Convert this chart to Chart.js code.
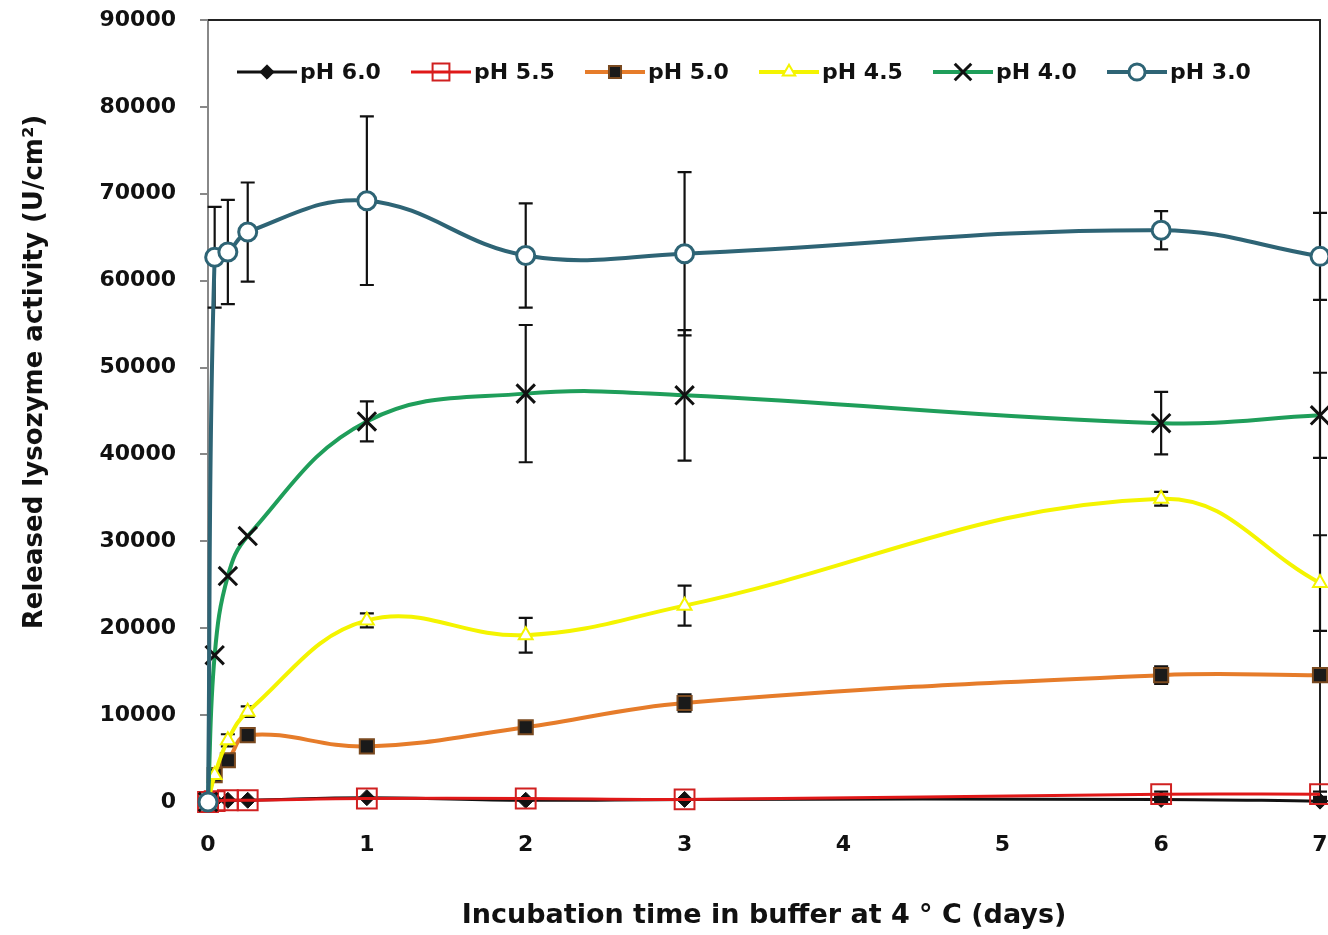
<!DOCTYPE html>
<html>
<head>
<meta charset="utf-8">
<script src="https://cdn.jsdelivr.net/npm/chart.js@4/dist/chart.umd.min.js"></script>
<style>
  html, body { margin: 0; padding: 0; background: #fff; }
  #wrap { width: 1328px; height: 935px; }
</style>
</head>
<body>
<div id="wrap"><canvas id="c" width="1328" height="935"></canvas></div>
<script>
// ---- data ----
const days = [0, 0.042, 0.125, 0.25, 1, 2, 3, 6, 7];
const seriesNames = ["pH 6.0", "pH 5.5", "pH 5.0", "pH 4.5", "pH 4.0", "pH 3.0"];

const ph60 = [0, 200, 200, 200, 500, 200, 300, 300, 100];
const ph55 = [0, 100, 200, 200, 400, 400, 300, 900, 900];
const ph50 = [0, 3100, 4800, 7700, 6400, 8600, 11400, 14600, 14600];
const ph45 = [0, 3100, 7100, 10400, 20900, 19200, 22600, 34900, 25200];
const ph40 = [0, 16900, 26000, 30600, 43800, 47000, 46800, 43600, 44500];
const ph30 = [0, 62700, 63300, 65600, 69200, 62900, 63100, 65800, 62800];

const err60 = [0, 0, 0, 0, 0, 0, 0, 300, 300];
const err55 = [0, 0, 0, 0, 0, 0, 0, 300, 300];
const err50 = [0, 0, 0, 700, 400, 500, 1000, 1000, 600];
const err45 = [0, 0, 700, 600, 800, 2000, 2300, 800, 5500];
const err40 = [0, 0, 0, 0, 2300, 7900, 7500, 3600, 4900];
const err30 = [0, 5800, 6000, 5700, 9700, 6000, 9400, 2200, 5000];

const yTicks = [0, 10000, 20000, 30000, 40000, 50000, 60000, 70000, 80000, 90000];
const xTicks = [0, 1, 2, 3, 4, 5, 6, 7];

const xTitle = 'Incubation time in buffer at 4 ° C (days)';
const yTitle = 'Released lysozyme activity (U/cm²)';

const FONT = "'DejaVu Sans', 'Open Sans', sans-serif";

function pts(vals) { return days.map((d, i) => ({ x: d, y: vals[i] })); }

const datasets = [
  { label: seriesNames[0], data: pts(ph60), err: err60, borderColor: '#111111', backgroundColor: '#111111',
    pointStyle: 'rectRot', pointRadius: 8, pointBorderColor: '#111111', pointBackgroundColor: '#111111', pointBorderWidth: 1, borderWidth: 3, order: 6 },
  { label: seriesNames[1], data: pts(ph55), err: err55, borderColor: '#E01818', backgroundColor: 'rgba(0,0,0,0)',
    pointStyle: 'rect', pointRadius: 14, pointBorderColor: '#D02020', pointBackgroundColor: 'rgba(255,255,255,0)', pointBorderWidth: 2, borderWidth: 3, order: 5 },
  { label: seriesNames[2], data: pts(ph50), err: err50, borderColor: '#E67C2A', backgroundColor: '#1a1a1a',
    pointStyle: 'rect', pointRadius: 10, pointBorderColor: '#7a4a20', pointBackgroundColor: '#1a1a1a', pointBorderWidth: 2, borderWidth: 4, order: 4 },
  { label: seriesNames[3], data: pts(ph45), err: err45, borderColor: '#F4F400', backgroundColor: '#ffffff',
    pointStyle: 'triangle', pointRadius: 8, pointBorderColor: '#F4F400', pointBackgroundColor: '#ffffff', pointBorderWidth: 2, borderWidth: 4, order: 3 },
  { label: seriesNames[4], data: pts(ph40), err: err40, borderColor: '#1F9E5A', backgroundColor: '#111111',
    pointStyle: 'crossRot', pointRadius: 13, pointBorderColor: '#111111', pointBackgroundColor: '#111111', pointBorderWidth: 3, borderWidth: 4, order: 2 },
  { label: seriesNames[5], data: pts(ph30), err: err30, borderColor: '#2E6475', backgroundColor: '#ffffff',
    pointStyle: 'circle', pointRadius: 9, pointBorderColor: '#2E6475', pointBackgroundColor: '#ffffff', pointBorderWidth: 3, borderWidth: 4, order: 1 }
];
datasets.forEach(d => { d.tension = 0.4; d.fill = false; d.clip = false; d.pointHoverRadius = d.pointRadius; });

// error bars drawn through the scales
const errorBars = {
  id: 'errorBars',
  beforeDatasetsDraw(chart) {
    const { ctx, scales: { x, y } } = chart;
    ctx.save();
    ctx.strokeStyle = '#111';
    ctx.lineWidth = 2.2;
    chart.data.datasets.forEach(ds => {
      ds.data.forEach((p, i) => {
        const e = ds.err[i];
        if (!e) return;
        const px = x.getPixelForValue(p.x);
        const yt = y.getPixelForValue(p.y + e);
        const yb = y.getPixelForValue(Math.max(p.y - e, 0));
        ctx.beginPath();
        ctx.moveTo(px, yt); ctx.lineTo(px, yb);
        ctx.moveTo(px - 7, yt); ctx.lineTo(px + 7, yt);
        ctx.moveTo(px - 7, yb); ctx.lineTo(px + 7, yb);
        ctx.stroke();
      });
    });
    ctx.restore();
  }
};

// frame: top and right border
const frame = {
  id: 'frame',
  beforeDatasetsDraw(chart) {
    const { ctx, chartArea: a } = chart;
    ctx.save();
    ctx.strokeStyle = '#222';
    ctx.lineWidth = 2;
    ctx.beginPath();
    ctx.moveTo(a.left, a.top);
    ctx.lineTo(a.right, a.top);
    ctx.lineTo(a.right, a.bottom);
    ctx.stroke();
    ctx.restore();
  }
};

// y-axis title (placed as in the reference, slightly above the plot centre)
const yTitlePlugin = {
  id: 'yTitlePlugin',
  afterDraw(chart) {
    const { ctx, chartArea: a } = chart;
    ctx.save();
    ctx.translate(35, (a.top + a.bottom) / 2 - 39);
    ctx.rotate(-Math.PI / 2);
    ctx.fillStyle = '#111';
    ctx.font = "bold 26px " + FONT;
    ctx.textAlign = 'center';
    ctx.textBaseline = 'middle';
    ctx.fillText(yTitle, 0, 0);
    ctx.restore();
  }
};

// legend inside plot, line + marker + label
const lineLegend = {
  id: 'lineLegend',
  afterDraw(chart) {
    const { ctx, chartArea: a } = chart;
    const baseY = a.top + 52;
    const step = 174;
    ctx.save();
    chart.data.datasets.forEach((ds, i) => {
      const x0 = a.left + 29 + i * step;
      const x1 = x0 + 60;
      ctx.beginPath();
      ctx.strokeStyle = ds.borderColor;
      ctx.lineWidth = ds.borderWidth;
      ctx.moveTo(x0, baseY); ctx.lineTo(x1, baseY);
      ctx.stroke();
      const opts = {
        pointStyle: ds.pointStyle,
        radius: ds.pointStyle === 'rect' ? ds.pointRadius * 0.85 : ds.pointRadius * 0.9,
        rotation: 0,
        borderWidth: ds.pointBorderWidth
      };
      ctx.fillStyle = ds.pointBackgroundColor;
      ctx.strokeStyle = ds.pointBorderColor;
      ctx.lineWidth = ds.pointBorderWidth;
      if (Chart.helpers && Chart.helpers.drawPoint) {
        Chart.helpers.drawPoint(ctx, opts, (x0 + x1) / 2, baseY);
      }
      ctx.fillStyle = '#111';
      ctx.font = "bold 22px " + FONT;
      ctx.textBaseline = 'middle';
      ctx.textAlign = 'left';
      ctx.fillText(ds.label, x1 + 3, baseY + 1);
    });
    ctx.restore();
  }
};

new Chart(document.getElementById('c'), {
  type: 'line',
  data: { datasets },
  plugins: [frame, errorBars, lineLegend, yTitlePlugin],
  options: {
    responsive: false,
    animation: false,
    devicePixelRatio: 1,
    layout: { autoPadding: false, padding: { top: 20, right: 8, left: 0, bottom: 0 } },
    plugins: { legend: { display: false }, tooltip: { enabled: false } },
    scales: {
      x: {
        type: 'linear', min: 0, max: 7,
        afterBuildTicks(scale) { scale.ticks = xTicks.map(v => ({ value: v })); },
        afterFit(scale) { scale.height = 133; scale.paddingLeft = 0; scale.paddingRight = 0; },
        grid: { drawOnChartArea: false, drawTicks: false },
        border: { display: false },
        ticks: { padding: 30, color: '#111', font: { family: FONT, size: 22, weight: 'bold' } },
        title: { display: true, text: xTitle, color: '#111',
                 font: { family: FONT, size: 27, weight: 'bold' }, padding: { top: 0, bottom: 3 } }
      },
      y: {
        type: 'linear', min: 0, max: 90000,
        afterBuildTicks(scale) { scale.ticks = yTicks.map(v => ({ value: v })); },
        afterFit(scale) { scale.width = 208; scale.paddingTop = 0; scale.paddingBottom = 0; },
        grid: { drawOnChartArea: false, drawTicks: true, tickLength: 8, color: '#888', lineWidth: 2 },
        border: { display: true, color: '#888', width: 2 },
        ticks: { padding: 24, color: '#111', font: { family: FONT, size: 22, weight: 'bold' },
                 callback: v => String(v) },
        title: { display: false }
      }
    }
  }
});
</script>
</body>
</html>
